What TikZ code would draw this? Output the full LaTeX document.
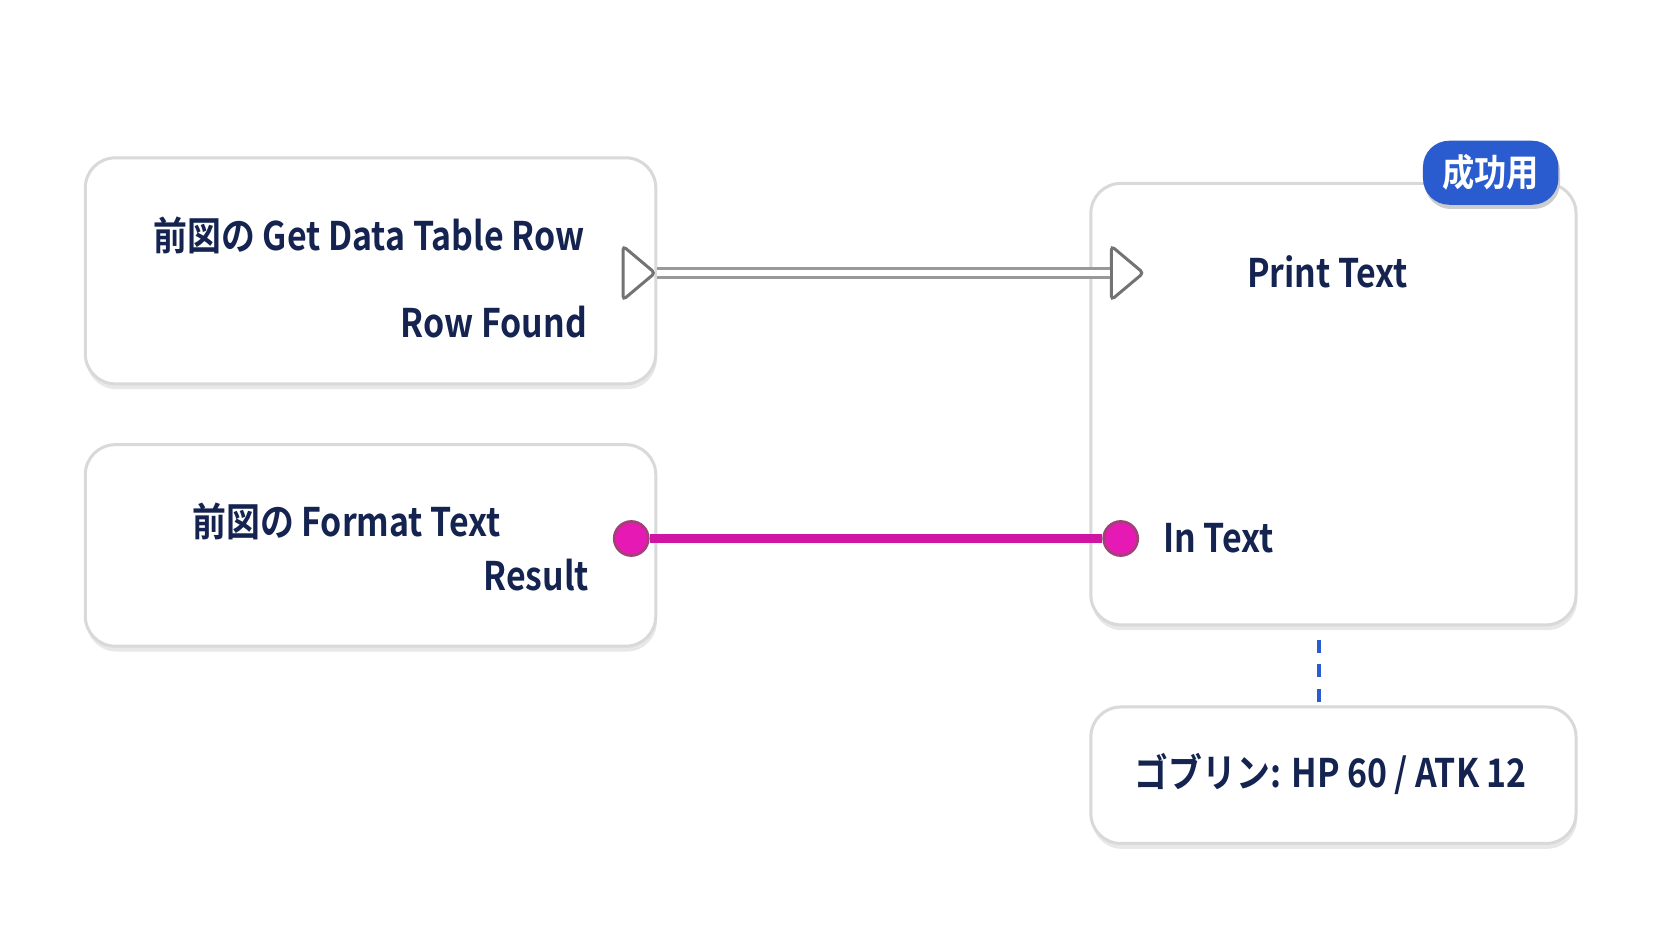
\documentclass[tikz,border=0pt]{standalone}
\usepackage{fontspec}
\usetikzlibrary{shapes.geometric}
\setmainfont{Noto Sans CJK JP}[BoldFont={Noto Sans CJK JP Bold},BoldFeatures={FakeStretch=0.86}]
\begin{document}
\begin{tikzpicture}[x=0.01cm,y=-0.01cm,
  box/.style={draw=black!15,line width=0.8pt,fill=white,rounded corners=8pt},
  shad/.style={fill=black!9,rounded corners=8pt},
  lbl/.style={font=\bfseries\fontsize{10.5}{13}\selectfont,text=navy,inner sep=0pt},
  pin/.style={circle,minimum size=0.32cm,inner sep=0pt,draw=magenta!60!black,fill=pinc,line width=0.7pt},
  tri/.style={isosceles triangle,isosceles triangle apex angle=80,minimum height=0.3cm,inner sep=0pt,draw=black!55,fill=white,line width=0.8pt,rounded corners=1pt}]
\definecolor{navy}{HTML}{14234F}
\definecolor{badge}{HTML}{2A5BCF}
\definecolor{pinc}{HTML}{E619B4}
\useasboundingbox (0,0) rectangle (1568,882);
\fill[white] (0,0) rectangle (1568,882);
% shadows
\foreach \a/\b/\c/\d in {80/148/615/360, 80/417/615/606, 1023/172/1478/586, 1023/663/1478/791}
  \fill[shad] (\a+1,\b+5) rectangle (\c+1,\d+5);
\draw[box] (80,148) rectangle (615,360);
\draw[box] (80,417) rectangle (615,606);
\draw[box] (1023,172) rectangle (1478,586);
\draw[box] (1023,663) rectangle (1478,791);
% badge
\fill[black!20,rounded corners=7pt] (1336,136) rectangle (1463,196);
\node[fill=badge,rounded corners=7pt,minimum width=1.27cm,minimum height=0.6cm,text=white,font=\bfseries\fontsize{10}{12}\selectfont] (badge) at (1398,162) {成功用};
% texts
\node[lbl] (t1) at (346,221) {前図の Get Data Table Row};
\node[lbl,anchor=east] (t2) at (551,302) {Row Found};
\node[lbl] (t3) at (325,489) {前図の Format Text};
\node[lbl,anchor=east] (t4) at (553,539) {Result};
\node[lbl] (t5) at (1245,255) {Print Text};
\node[lbl,anchor=west] (t6) at (1090,505) {In Text};
\node[lbl] (t7) at (1248,726) {ゴブリン: HP 60 / ATK 12};
% exec pins
\node[tri] (eo) at (596,256) {};
\node[tri] (ei) at (1054,256) {};
\draw[black!40,line width=3pt] (eo.apex) -- (ei.west);
\draw[white,line width=1.6pt] (eo.apex) -- (ei.west);
% data pins
\node[pin] (po) at (592,505) {};
\node[pin] (pi) at (1051,505) {};
\draw[pinc!90!black,line width=2.2pt] (po) -- (pi);
% dashed link
\coordinate (d1) at (1237,600);
\coordinate (d2) at (1237,660);
\draw[badge,line width=1.2pt,dash pattern=on 3.5pt off 3pt] (d1) -- (d2);
\end{tikzpicture}
\end{document}
